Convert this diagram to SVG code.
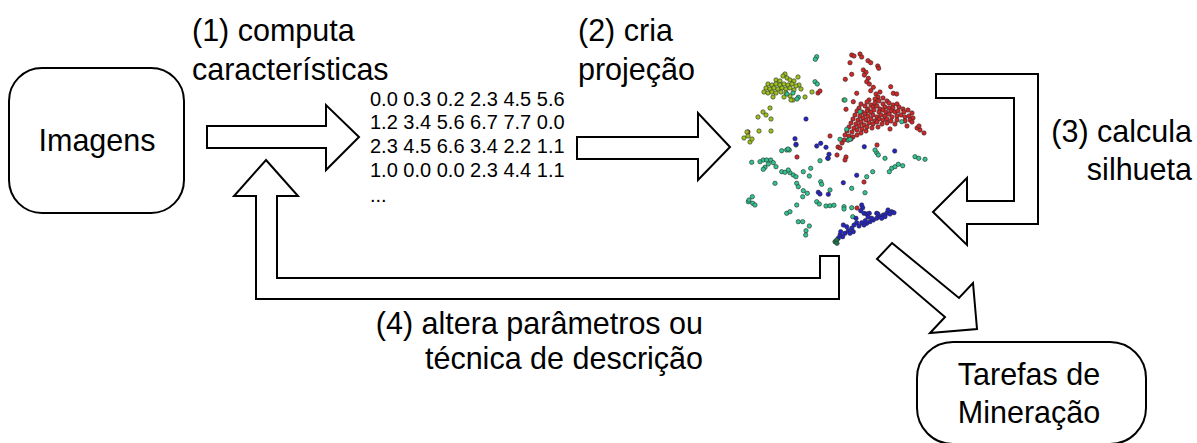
<svg xmlns="http://www.w3.org/2000/svg" width="1197" height="443" viewBox="0 0 1197 443">
<style>
.box{fill:#fff;stroke:#000;stroke-width:2}
.arr{fill:#fff;stroke:#000;stroke-width:2;stroke-linejoin:miter}
.t{font-family:"Liberation Sans",Arial,sans-serif;font-size:30.5px;fill:#000}
.m{font-family:"Liberation Sans",Arial,sans-serif;font-size:20px;fill:#000}
circle{stroke:#2a2a2a;stroke-width:0.6}
.r circle{fill:#d42626}
.y circle{fill:#9cc21c}
.g circle{fill:#2fc48e}
.b circle{fill:#2424c8}
.d circle{fill:#1c7a4c}
</style>
<rect width="1197" height="443" fill="#fff"/>

<g id="imagens">
<rect class="box" x="9" y="68" width="175" height="145" rx="33"/>
<text class="t" x="97" y="151" text-anchor="middle">Imagens</text>
</g>

<g id="features">
<text class="m" x="370" y="106">0.0 0.3 0.2 2.3 4.5 5.6</text>
<text class="m" x="370" y="129">1.2 3.4 5.6 6.7 7.7 0.0</text>
<text class="m" x="370" y="153">2.3 4.5 6.6 3.4 2.2 1.1</text>
<text class="m" x="370" y="177">1.0 0.0 0.0 2.3 4.4 1.1</text>
<text class="m" x="370" y="202">...</text>
</g>

<g id="tarefas">
<rect class="box" x="917" y="342" width="229" height="102" rx="36"/>
<text class="t" x="1029" y="385" text-anchor="middle">Tarefas de</text>
<text class="t" x="1029" y="423" text-anchor="middle">Mineração</text>
</g>

<g id="projecao">
<g class="r">
<circle cx="851.7" cy="55" r="2.2"/><circle cx="854" cy="56" r="2.2"/><circle cx="860" cy="54" r="2.2"/><circle cx="861.7" cy="57" r="2.2"/>
<circle cx="868" cy="60.7" r="2.2"/><circle cx="870.7" cy="62.7" r="2.2"/><circle cx="877.7" cy="66" r="2.2"/><circle cx="878.7" cy="68.3" r="2.2"/>
<circle cx="850" cy="62.7" r="2.2"/><circle cx="863.3" cy="70" r="2.2"/><circle cx="866" cy="72.3" r="2.2"/><circle cx="864.3" cy="75" r="2.2"/>
<circle cx="868.3" cy="78.3" r="2.2"/><circle cx="866.7" cy="81.7" r="2.2"/><circle cx="869.3" cy="84" r="2.2"/><circle cx="873.3" cy="87.3" r="2.2"/>
<circle cx="870.7" cy="90.7" r="2.2"/><circle cx="851.7" cy="74.3" r="2.2"/><circle cx="845.3" cy="79.3" r="2.2"/><circle cx="856.7" cy="93.3" r="2.2"/>
<circle cx="890.7" cy="86.7" r="2.2"/><circle cx="893.3" cy="93.3" r="2.2"/><circle cx="896.7" cy="94" r="2.2"/><circle cx="853.3" cy="101.7" r="2.2"/>
<circle cx="846" cy="109.3" r="2.2"/><circle cx="876" cy="94" r="2.2"/><circle cx="880" cy="92" r="2.2"/><circle cx="878" cy="97" r="2.2"/>
<circle cx="869" cy="100" r="2.2"/><circle cx="875" cy="99" r="2.2"/><circle cx="883" cy="98" r="2.2"/><circle cx="887" cy="101" r="2.2"/>
<circle cx="861" cy="104" r="2.2"/><circle cx="867" cy="102" r="2.2"/><circle cx="871" cy="105" r="2.2"/><circle cx="875" cy="103" r="2.2"/><circle cx="879" cy="101" r="2.2"/><circle cx="883" cy="104" r="2.2"/><circle cx="889" cy="103" r="2.2"/><circle cx="893" cy="105" r="2.2"/><circle cx="897" cy="104" r="2.2"/>
<circle cx="859" cy="108" r="2.2"/><circle cx="865" cy="106" r="2.2"/><circle cx="868" cy="109" r="2.2"/><circle cx="873" cy="107" r="2.2"/><circle cx="877" cy="106" r="2.2"/><circle cx="880" cy="109" r="2.2"/><circle cx="885" cy="107" r="2.2"/><circle cx="889" cy="108" r="2.2"/><circle cx="893" cy="108" r="2.2"/><circle cx="899" cy="107" r="2.2"/><circle cx="903" cy="109" r="2.2"/>
<circle cx="857" cy="111" r="2.2"/><circle cx="862" cy="112" r="2.2"/><circle cx="867" cy="111" r="2.2"/><circle cx="871" cy="112" r="2.2"/><circle cx="874" cy="110" r="2.2"/><circle cx="879" cy="112" r="2.2"/><circle cx="883" cy="110" r="2.2"/><circle cx="886" cy="112" r="2.2"/><circle cx="891" cy="111" r="2.2"/><circle cx="895" cy="112" r="2.2"/><circle cx="898" cy="111" r="2.2"/><circle cx="904" cy="112" r="2.2"/><circle cx="908" cy="110" r="2.2"/><circle cx="912" cy="113" r="2.2"/>
<circle cx="855" cy="115" r="2.2"/><circle cx="860" cy="116" r="2.2"/><circle cx="865" cy="114" r="2.2"/><circle cx="868" cy="116" r="2.2"/><circle cx="873" cy="115" r="2.2"/><circle cx="877" cy="117" r="2.2"/><circle cx="881" cy="115" r="2.2"/><circle cx="885" cy="116" r="2.2"/><circle cx="889" cy="114" r="2.2"/><circle cx="892" cy="117" r="2.2"/><circle cx="897" cy="116" r="2.2"/><circle cx="901" cy="115" r="2.2"/><circle cx="905" cy="117" r="2.2"/><circle cx="909" cy="116" r="2.2"/><circle cx="913" cy="118" r="2.2"/>
<circle cx="853" cy="119" r="2.2"/><circle cx="858" cy="120" r="2.2"/><circle cx="863" cy="118" r="2.2"/><circle cx="866" cy="120" r="2.2"/><circle cx="871" cy="119" r="2.2"/><circle cx="875" cy="121" r="2.2"/><circle cx="879" cy="119" r="2.2"/><circle cx="883" cy="120" r="2.2"/><circle cx="887" cy="119" r="2.2"/><circle cx="891" cy="121" r="2.2"/><circle cx="897" cy="120" r="2.2"/><circle cx="905" cy="121" r="2.2"/><circle cx="910" cy="120" r="2.2"/>
<circle cx="851" cy="123" r="2.2"/><circle cx="856" cy="124" r="2.2"/><circle cx="861" cy="122" r="2.2"/><circle cx="864" cy="125" r="2.2"/><circle cx="869" cy="123" r="2.2"/><circle cx="873" cy="124" r="2.2"/><circle cx="877" cy="122" r="2.2"/><circle cx="882" cy="124" r="2.2"/><circle cx="887" cy="123" r="2.2"/><circle cx="895" cy="124" r="2.2"/><circle cx="907" cy="126" r="2.2"/>
<circle cx="849" cy="127" r="2.2"/><circle cx="854" cy="128" r="2.2"/><circle cx="859" cy="126" r="2.2"/><circle cx="862" cy="129" r="2.2"/><circle cx="867" cy="127" r="2.2"/><circle cx="872" cy="128" r="2.2"/><circle cx="878" cy="127" r="2.2"/><circle cx="890" cy="129" r="2.2"/>
<circle cx="847" cy="131" r="2.2"/><circle cx="852" cy="132" r="2.2"/><circle cx="857" cy="130" r="2.2"/><circle cx="861" cy="133" r="2.2"/><circle cx="866" cy="131" r="2.2"/>
<circle cx="845" cy="135" r="2.2"/><circle cx="849" cy="136" r="2.2"/><circle cx="853" cy="137" r="2.2"/><circle cx="857" cy="135" r="2.2"/>
<circle cx="838" cy="147" r="2.2"/><circle cx="842" cy="143" r="2.2"/><circle cx="848" cy="140" r="2.2"/><circle cx="840" cy="148" r="2.2"/><circle cx="844" cy="140" r="2.2"/><circle cx="851" cy="139" r="2.2"/>
<circle cx="917" cy="128" r="2.2"/><circle cx="920" cy="130" r="2.2"/><circle cx="924" cy="133" r="2.2"/><circle cx="919" cy="126" r="2.2"/><circle cx="912" cy="122" r="2.2"/>
<circle cx="797" cy="157" r="2.2"/><circle cx="818" cy="93" r="2.2"/><circle cx="820" cy="91" r="2.2"/><circle cx="877" cy="145" r="2.2"/><circle cx="864" cy="182" r="2.2"/><circle cx="857" cy="208" r="2.2"/>
<circle cx="748" cy="132" r="2.2"/><circle cx="837" cy="155" r="2.2"/><circle cx="846" cy="157" r="2.2"/><circle cx="830" cy="136" r="2.2"/><circle cx="845" cy="160" r="2.2"/>
</g>
<g class="y">
<circle cx="785" cy="74" r="2.2"/><circle cx="798" cy="77" r="2.2"/><circle cx="812" cy="92" r="2.2"/><circle cx="805" cy="97" r="2.2"/><circle cx="793" cy="100" r="2.2"/>
<circle cx="770" cy="108" r="2.2"/><circle cx="763" cy="112" r="2.2"/><circle cx="766" cy="115" r="2.2"/><circle cx="758" cy="117" r="2.2"/><circle cx="771" cy="119" r="2.2"/>
<circle cx="759" cy="131" r="2.2"/><circle cx="771" cy="131" r="2.2"/><circle cx="747" cy="132" r="2.2"/><circle cx="744" cy="138" r="2.2"/><circle cx="748" cy="136" r="2.2"/><circle cx="750" cy="142" r="2.2"/><circle cx="752" cy="139" r="2.2"/>
<circle cx="844" cy="100" r="2.2"/>
<circle cx="783" cy="76" r="2.2"/><circle cx="787" cy="78" r="2.2"/><circle cx="776" cy="80" r="2.2"/><circle cx="780" cy="81" r="2.2"/><circle cx="790" cy="80" r="2.2"/><circle cx="794" cy="81" r="2.2"/><circle cx="799" cy="85" r="2.2"/>
<circle cx="768" cy="84" r="2.2"/><circle cx="772" cy="85" r="2.2"/><circle cx="776" cy="84" r="2.2"/><circle cx="780" cy="85" r="2.2"/><circle cx="784" cy="84" r="2.2"/><circle cx="788" cy="85" r="2.2"/><circle cx="792" cy="84" r="2.2"/><circle cx="796" cy="86" r="2.2"/>
<circle cx="766" cy="88" r="2.2"/><circle cx="770" cy="89" r="2.2"/><circle cx="774" cy="88" r="2.2"/><circle cx="778" cy="89" r="2.2"/><circle cx="782" cy="88" r="2.2"/><circle cx="786" cy="89" r="2.2"/><circle cx="790" cy="88" r="2.2"/><circle cx="794" cy="90" r="2.2"/><circle cx="801" cy="89" r="2.2"/>
<circle cx="764" cy="92" r="2.2"/><circle cx="768" cy="93" r="2.2"/><circle cx="772" cy="92" r="2.2"/><circle cx="776" cy="93" r="2.2"/><circle cx="781" cy="92" r="2.2"/><circle cx="786" cy="93" r="2.2"/><circle cx="790" cy="96" r="2.2"/>
<circle cx="773" cy="97" r="2.2"/><circle cx="784" cy="97" r="2.2"/><circle cx="791" cy="100" r="2.2"/>
</g>
<g class="g">
<circle cx="816.7" cy="56.7" r="2.2"/><circle cx="815.3" cy="59.3" r="2.2"/><circle cx="815" cy="81.7" r="2.2"/><circle cx="817.3" cy="84" r="2.2"/>
<circle cx="845" cy="100" r="2.2"/><circle cx="846.7" cy="129.3" r="2.2"/><circle cx="840" cy="139.3" r="2.2"/><circle cx="848.3" cy="140" r="2.2"/>
<circle cx="786.7" cy="150" r="2.2"/><circle cx="781.7" cy="150.7" r="2.2"/><circle cx="789.3" cy="150" r="2.2"/><circle cx="751.7" cy="162.3" r="2.2"/>
<circle cx="760" cy="161.7" r="2.2"/><circle cx="763.3" cy="160" r="2.2"/><circle cx="766.7" cy="160" r="2.2"/><circle cx="770.7" cy="160" r="2.2"/>
<circle cx="773.3" cy="162.7" r="2.2"/><circle cx="765" cy="167.3" r="2.2"/><circle cx="763.3" cy="169.3" r="2.2"/><circle cx="768.3" cy="164" r="2.2"/>
<circle cx="776" cy="166.7" r="2.2"/><circle cx="781.7" cy="171.7" r="2.2"/><circle cx="785" cy="172.3" r="2.2"/><circle cx="790" cy="172.7" r="2.2"/>
<circle cx="793.3" cy="175" r="2.2"/><circle cx="796" cy="176.7" r="2.2"/><circle cx="788.3" cy="170" r="2.2"/><circle cx="803.3" cy="171.7" r="2.2"/>
<circle cx="810.7" cy="168.3" r="2.2"/><circle cx="809.3" cy="176" r="2.2"/><circle cx="796.7" cy="183.3" r="2.2"/><circle cx="798.3" cy="186.7" r="2.2"/>
<circle cx="803.3" cy="190.7" r="2.2"/><circle cx="807.3" cy="193.3" r="2.2"/><circle cx="802.7" cy="196.7" r="2.2"/><circle cx="775" cy="183.3" r="2.2"/>
<circle cx="752.3" cy="196.7" r="2.2"/><circle cx="748.3" cy="201.7" r="2.2"/><circle cx="752.7" cy="203.3" r="2.2"/><circle cx="755" cy="205" r="2.2"/>
<circle cx="786.7" cy="213.3" r="2.2"/><circle cx="790" cy="211.7" r="2.2"/><circle cx="796.7" cy="205" r="2.2"/><circle cx="798.3" cy="221.7" r="2.2"/>
<circle cx="802.7" cy="221.7" r="2.2"/><circle cx="809.3" cy="226" r="2.2"/><circle cx="806" cy="230.7" r="2.2"/><circle cx="805.7" cy="235" r="2.2"/>
<circle cx="816.7" cy="201.7" r="2.2"/><circle cx="819.3" cy="204" r="2.2"/><circle cx="826" cy="206" r="2.2"/><circle cx="830" cy="205.7" r="2.2"/>
<circle cx="834" cy="205.3" r="2.2"/><circle cx="844" cy="206.7" r="2.2"/><circle cx="844" cy="209" r="2.2"/><circle cx="851.7" cy="207.7" r="2.2"/>
<circle cx="852.7" cy="216.7" r="2.2"/><circle cx="820.7" cy="181.7" r="2.2"/><circle cx="821.7" cy="184.3" r="2.2"/><circle cx="830" cy="190" r="2.2"/>
<circle cx="820" cy="160.7" r="2.2"/><circle cx="828.3" cy="158.3" r="2.2"/><circle cx="876.7" cy="152.7" r="2.2"/><circle cx="878.3" cy="155" r="2.2"/>
<circle cx="885" cy="158.3" r="2.2"/><circle cx="891.7" cy="168.3" r="2.2"/><circle cx="895" cy="166.7" r="2.2"/><circle cx="898.3" cy="164.3" r="2.2"/>
<circle cx="902.7" cy="165.7" r="2.2"/><circle cx="915" cy="156.7" r="2.2"/><circle cx="918.7" cy="158.3" r="2.2"/><circle cx="925" cy="159.3" r="2.2"/>
<circle cx="889.3" cy="171.7" r="2.2"/><circle cx="872.7" cy="171.7" r="2.2"/><circle cx="866.7" cy="176.7" r="2.2"/><circle cx="865" cy="192.7" r="2.2"/>
<circle cx="851.7" cy="188.3" r="2.2"/><circle cx="796" cy="145" r="2.2"/><circle cx="798.3" cy="97.3" r="2.2"/><circle cx="788" cy="149" r="2.2"/>
<circle cx="860" cy="111.7" r="2.2"/><circle cx="901.7" cy="121.7" r="2.2"/><circle cx="850" cy="139.3" r="2.2"/><circle cx="793" cy="93" r="2.2"/><circle cx="797" cy="99" r="2.2"/><circle cx="787" cy="94" r="2.2"/>
<circle cx="749" cy="200" r="2.2"/><circle cx="875" cy="150" r="2.2"/>
</g>
<g class="b">
<circle cx="806" cy="119" r="2.2"/><circle cx="795" cy="138.7" r="2.2"/><circle cx="796" cy="144.3" r="2.2"/><circle cx="816.7" cy="146" r="2.2"/>
<circle cx="820.7" cy="143.3" r="2.2"/><circle cx="826" cy="147.3" r="2.2"/><circle cx="829" cy="154.3" r="2.2"/><circle cx="827.7" cy="158.3" r="2.2"/>
<circle cx="818.3" cy="192.3" r="2.2"/><circle cx="828.3" cy="194.3" r="2.2"/><circle cx="843.3" cy="182.7" r="2.2"/><circle cx="856.7" cy="175.3" r="2.2"/>
<circle cx="864.3" cy="146.7" r="2.2"/><circle cx="894.7" cy="151" r="2.2"/><circle cx="820" cy="194" r="2.2"/>
<circle cx="861.7" cy="205" r="2.2"/><circle cx="862.7" cy="207.7" r="2.2"/><circle cx="860.7" cy="210.7" r="2.2"/><circle cx="864" cy="213.3" r="2.2"/>
<circle cx="866.7" cy="214" r="2.2"/><circle cx="869.3" cy="213.3" r="2.2"/><circle cx="876.7" cy="213.3" r="2.2"/><circle cx="886.7" cy="213.3" r="2.2"/>
<circle cx="891.7" cy="211.7" r="2.2"/><circle cx="894" cy="212.7" r="2.2"/><circle cx="890" cy="214" r="2.2"/><circle cx="883.3" cy="215" r="2.2"/>
<circle cx="880" cy="216.7" r="2.2"/><circle cx="876.7" cy="218.3" r="2.2"/><circle cx="873.3" cy="220" r="2.2"/><circle cx="870" cy="221.7" r="2.2"/>
<circle cx="866.7" cy="223.3" r="2.2"/><circle cx="864" cy="225" r="2.2"/><circle cx="861.7" cy="222.7" r="2.2"/><circle cx="865.3" cy="220.7" r="2.2"/>
<circle cx="871.7" cy="218.3" r="2.2"/><circle cx="881.7" cy="218.3" r="2.2"/><circle cx="885" cy="216.7" r="2.2"/><circle cx="856.7" cy="222.7" r="2.2"/>
<circle cx="856" cy="218.3" r="2.2"/><circle cx="851.7" cy="228.3" r="2.2"/><circle cx="848.3" cy="230.7" r="2.2"/><circle cx="845" cy="233.3" r="2.2"/>
<circle cx="842.7" cy="236.7" r="2.2"/><circle cx="840" cy="235" r="2.2"/><circle cx="838.3" cy="238.3" r="2.2"/><circle cx="846.7" cy="226.7" r="2.2"/>
<circle cx="843.3" cy="225" r="2.2"/><circle cx="853.3" cy="231.7" r="2.2"/><circle cx="850" cy="233.3" r="2.2"/><circle cx="840.7" cy="231.7" r="2.2"/>
<circle cx="868" cy="217" r="2.2"/><circle cx="878" cy="214" r="2.2"/><circle cx="888" cy="210" r="2.2"/><circle cx="859" cy="226" r="2.2"/><circle cx="854" cy="225" r="2.2"/>
</g>
<g class="d">
<circle cx="835" cy="241.7" r="2.2"/><circle cx="836.7" cy="240" r="2.2"/><circle cx="837" cy="243.3" r="2.2"/>
</g>
</g>

<g id="connectors">
<polygon class="arr" points="207,126 326,126 326,105 359,137 326,170 326,148 207,148"/>
<polygon class="arr" points="577,137 698,137 698,113 730,147 698,180 698,159 577,159"/>
<polygon class="arr" points="936,74 1038,74 1038,224 967,224 967,245 933,212 967,178 967,201 1014,201 1014,98 936,98"/>
<polygon class="arr" points="892,243 959,298 973,283 977,329 930,333 945,317 877,259"/>
<polygon class="arr" points="266,160 298,196 277,196 277,278 820,278 820,256 839,256 839,299 256,299 256,196 234,196"/>
</g>

<g id="labels">
<text class="t" x="192" y="41">(1) computa</text>
<text class="t" x="192" y="80">características</text>
<text class="t" x="578" y="41">(2) cria</text>
<text class="t" x="578" y="80">projeção</text>
<text class="t" x="1192" y="142" text-anchor="end">(3) calcula</text>
<text class="t" x="1192" y="180" text-anchor="end">silhueta</text>
<text class="t" x="703" y="334" text-anchor="end">(4) altera parâmetros ou</text>
<text class="t" x="703" y="369" text-anchor="end">técnica de descrição</text>
</g>
</svg>
